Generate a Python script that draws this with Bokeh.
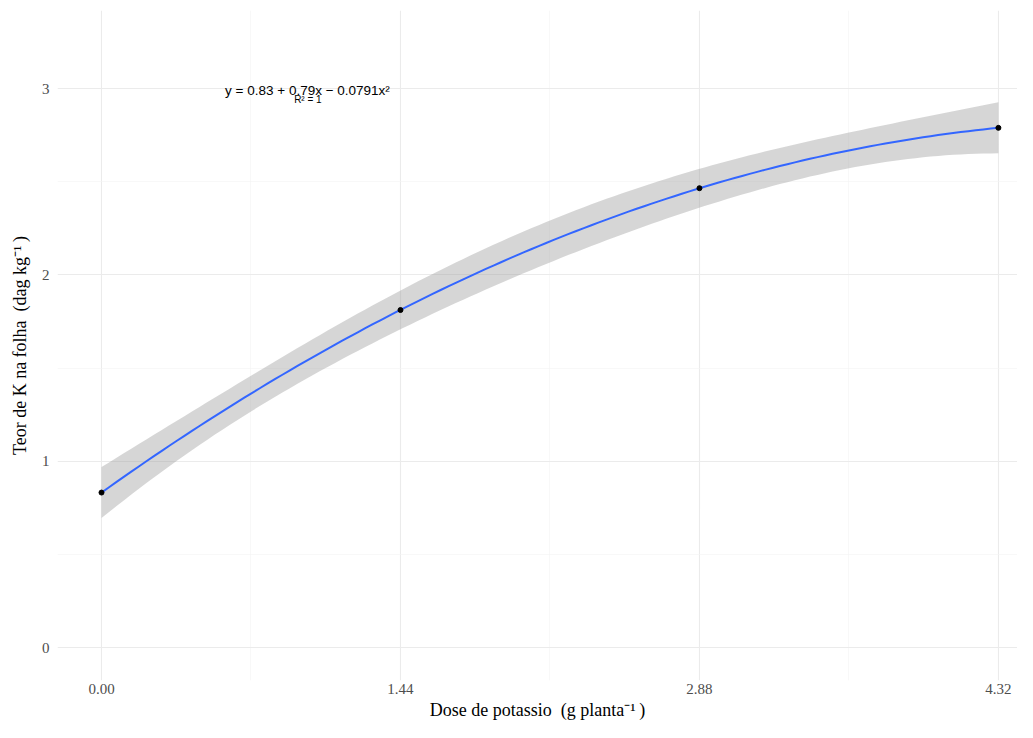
import numpy as np
from bokeh.plotting import figure
from bokeh.models import Range1d, FixedTicker, ColumnDataSource
from bokeh.core.properties import value
from bokeh.embed import file_html
from bokeh.resources import INLINE

# data
dose = [0.00, 1.44, 2.88, 4.32]
teor_k = [0.832, 1.812, 2.466, 2.790]
x_ticks = [0.00, 1.44, 2.88, 4.32]
x_tick_labels = ["0.00", "1.44", "2.88", "4.32"]
x_minor = [0.72, 2.16, 3.60]
y_ticks = [0, 1, 2, 3]
y_minor = [0.5, 1.5, 2.5]
band_halfwidth_at_ends = 0.137  # (CI half-width at x=0 / x=4.32)
equation = "y = 0.83 + 0.79x \u2212 0.0791x\u00b2"
r2_text = "R\u00b2 = 1"

# quadratic fit (as in geom_smooth(method='lm', formula=y~poly(x,2)))
X = np.array(dose)
Y = np.array(teor_k)
coef = np.polyfit(X, Y, 2)
xs = np.linspace(min(dose), max(dose), 120)
ys = np.polyval(coef, xs)
A = np.vstack([np.ones_like(X), X, X ** 2]).T
inv = np.linalg.inv(A.T @ A)
A0 = np.vstack([np.ones_like(xs), xs, xs ** 2]).T
lev = np.einsum("ij,jk,ik->i", A0, inv, A0)
lev_end = float(np.array([1, 0, 0]) @ inv @ np.array([1, 0, 0]))
hw = band_halfwidth_at_ends * np.sqrt(lev / lev_end)

p = figure(width=1017, height=722, output_backend="svg", toolbar_location=None,
           x_range=Range1d(-0.212, 4.412), y_range=Range1d(-0.177, 3.42),
           min_border_left=57, min_border_right=0, min_border_top=10, min_border_bottom=42)
p.outline_line_color = None
p.background_fill_color = "white"

for ax in (p.xaxis[0], p.yaxis[0]):
    ax.axis_line_color = None
    ax.major_tick_line_color = None
    ax.minor_tick_line_color = None
    ax.major_tick_out = 0
    ax.major_tick_in = 0
    ax.minor_tick_out = 0
    ax.major_label_text_font = "Liberation Serif"
    ax.major_label_text_font_size = "15px"
    ax.major_label_text_color = "#4D4D4D"
    ax.axis_label_text_font = "Liberation Serif"
    ax.axis_label_text_font_size = "18px"
    ax.axis_label_text_font_style = "normal"
    ax.axis_label_text_color = "black"

p.xaxis.ticker = FixedTicker(ticks=x_ticks, minor_ticks=x_minor)
p.xaxis.major_label_overrides = {t: l for t, l in zip(x_ticks, x_tick_labels)}
p.yaxis.ticker = FixedTicker(ticks=y_ticks, minor_ticks=y_minor)
p.xaxis.major_label_standoff = 3
p.xaxis.axis_label_standoff = 3
p.yaxis.major_label_standoff = 8
p.yaxis.axis_label_standoff = 9
p.xaxis.axis_label = "Dose de potassio\u2002(g planta\u207b\u00b9\u2009)"
p.yaxis.axis_label = "Teor de K na folha\u2002(dag kg\u207b\u00b9\u2009)"

for g in (p.xgrid[0], p.ygrid[0]):
    g.grid_line_color = "#EBEBEB"
    g.grid_line_width = 1.1
    g.minor_grid_line_color = "#F3F3F3"
    g.minor_grid_line_width = 0.6

band = ColumnDataSource(dict(x=xs, lo=ys - hw, hi=ys + hw))
p.varea(x="x", y1="lo", y2="hi", source=band, fill_color="#999999", fill_alpha=0.4)
p.line(xs, ys, line_color="#3366FF", line_width=2)
p.scatter(dose, teor_k, size=5, color="black")

p.text(x=[0.992], y=[2.99], text=[equation], text_font=value("Liberation Sans"),
       text_font_size="13.5px", text_align="center", text_baseline="middle", text_color="black")
p.text(x=[0.994], y=[2.94], text=[r2_text], text_font=value("Liberation Sans"),
       text_font_size="10px", text_align="center", text_baseline="middle", text_color="black")

open("out.html", "w").write(file_html(p, INLINE))
